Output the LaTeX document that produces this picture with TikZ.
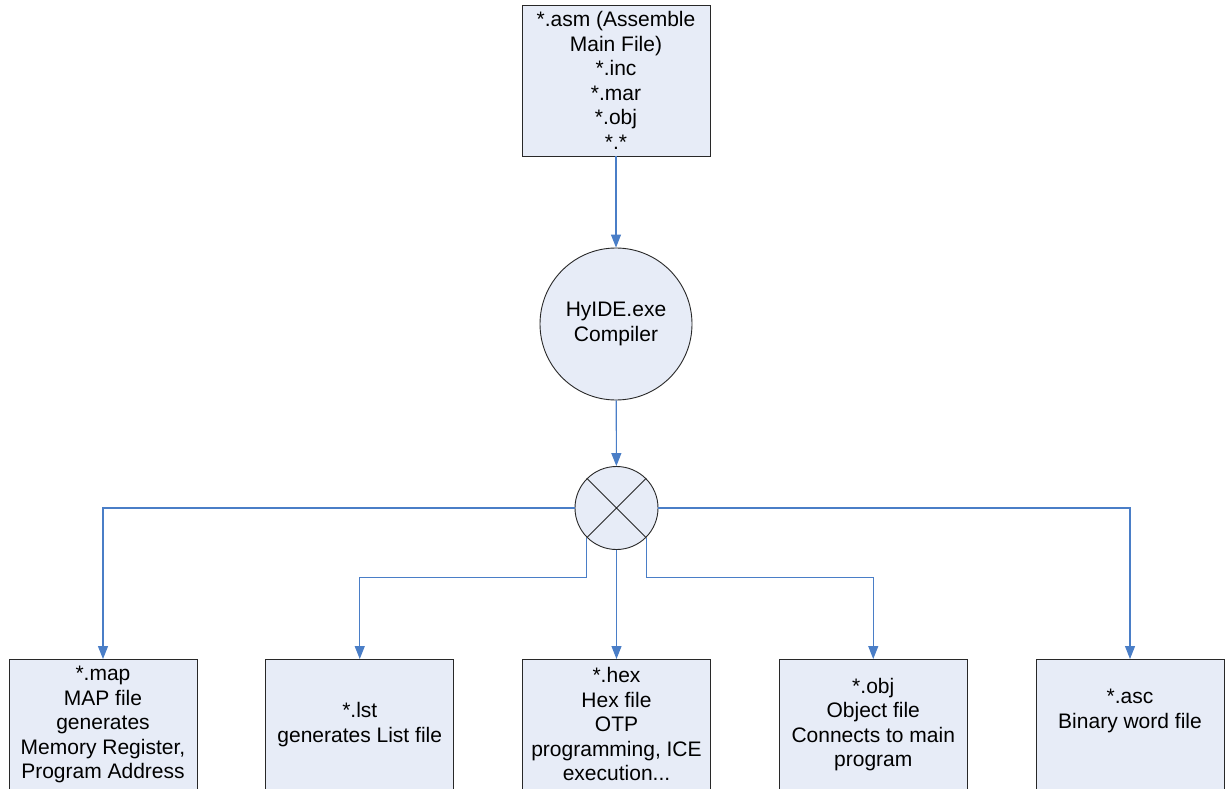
\documentclass[tikz,border=0pt]{standalone}
\usepackage{fontspec}
\setmainfont{Liberation Sans}
\usetikzlibrary{arrows.meta}
\definecolor{boxfill}{RGB}{231,236,247}
\definecolor{conncol}{RGB}{74,126,199}
\definecolor{edgecol}{RGB}{40,40,40}
\begin{document}
\begin{tikzpicture}[x=1pt,y=-1pt,
  every node/.style={font=\fontsize{21}{24.5}\selectfont},
  filebox/.style={draw=edgecol,fill=boxfill,line width=0.9pt,minimum width=188pt,align=center,inner sep=0pt},
  roundnode/.style={circle,draw=edgecol,fill=boxfill,line width=0.9pt,inner sep=0pt,align=center},
  link/.style={draw=conncol,line width=1.1pt},
  arr/.style={-{Triangle[width=10pt,length=13pt]}}
]
\useasboundingbox (0,0) rectangle (1230,791);
\clip (0,0) rectangle (1230,788.4);
\fill[white] (0,0) rectangle (1230,791);

\node[filebox,minimum height=151pt] (src) at (616,80.5)
  {*.asm (Assemble\\Main File)\\*.inc\\*.mar\\*.obj\\*.*};
\node[roundnode,minimum size=152pt] (hc) at (616,324) {HyIDE.exe\\Compiler};
\node[roundnode,minimum size=83pt] (j) at (616.5,508) {};
\draw[edgecol,line width=0.9pt] (j.45) -- (j.225) (j.135) -- (j.315);

\node[filebox,minimum height=130pt,anchor=north] (b1) at (103,659)
  {*.map\\MAP file\\generates\\Memory Register,\\Program Address};
\node[filebox,minimum height=130pt,anchor=north] (b2) at (359.75,659)
  {*.lst\\generates List file};
\node[filebox,minimum height=130pt,anchor=north] (b3) at (616.5,659)
  {*.hex\\Hex file\\OTP\\programming, ICE\\execution...};
\node[filebox,minimum height=130pt,anchor=north] (b4) at (873.25,659)
  {*.obj\\Object file\\Connects to main\\program};
\node[filebox,minimum height=130pt,anchor=north] (b5) at (1130,659)
  {*.asc\\Binary word file\\\strut};

\draw[link,arr] (src) -- (hc);
\draw[link,arr] (hc) -- (j);
\draw[link,arr] (j.west) -| (b1);
\draw[link,arr] (j.east) -| (b5);
\draw[link,arr] (j.225) -- ++(0,40) -| (b2);
\draw[link,arr] (j.315) -- ++(0,40) -| (b4);
\draw[link,arr] (j.south) -- (b3);
\end{tikzpicture}
\end{document}
